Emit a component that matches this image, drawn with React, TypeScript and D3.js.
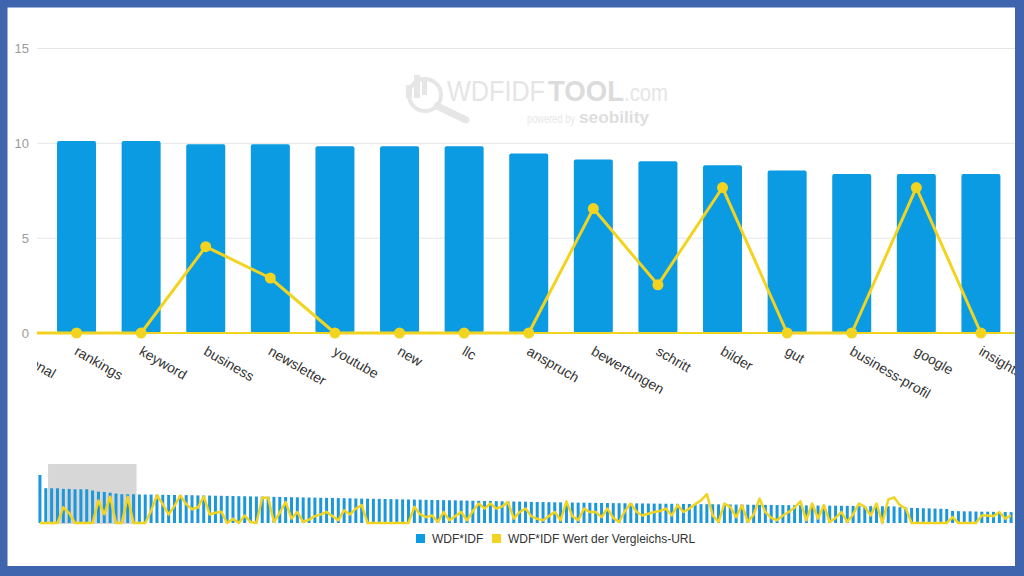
import React from "react";
import * as d3 from "d3";

// ---- data ----
const categories = ["", "regional", "rankings", "keyword", "business", "newsletter", "youtube", "new", "llc", "anspruch", "bewertungen", "schritt", "bilder", "gut", "business-profil", "google", "insights"];
const wdfIdf = [14.0, 10.15, 10.12, 10.12, 9.95, 9.95, 9.84, 9.84, 9.84, 9.47, 9.15, 9.05, 8.84, 8.57, 8.38, 8.38, 8.38];
const compareUrl = [0, 0, 0, 0, 4.55, 2.9, 0, 0, 0, 0, 6.56, 2.54, 7.67, 0, 0, 7.67, 0];
const moreWdfIdf = [
  8.32, 8.30, 8.28, 8.25, 8.22, 8.20, 8.18, 8.15, 8.12, 8.10,
  8.05, 8.02, 8.00, 7.96, 7.93, 7.90, 7.86, 7.82, 7.80, 7.76,
  7.72, 7.70, 7.66, 7.62, 7.60, 7.56, 7.52, 7.50, 7.46, 7.42,
  7.40, 7.36, 7.33, 7.30, 7.26, 7.22, 7.20, 7.16, 7.12, 7.10,
  7.06, 7.02, 7.00, 6.96, 6.93, 6.90, 6.86, 6.83, 6.80, 6.76,
  6.73, 6.70, 6.66, 6.63, 6.60, 6.56, 6.53, 6.50, 6.46, 6.43,
  6.40, 6.36, 6.33, 6.30, 6.26, 6.23, 6.20, 6.16, 6.13, 6.10,
  6.07, 6.04, 6.02, 6.00, 5.97, 5.94, 5.92, 5.90, 5.87, 5.85,
  5.82, 5.80, 5.78, 5.76, 5.74, 5.72, 5.70, 5.68, 5.66, 5.64,
  5.62, 5.60, 5.58, 5.56, 5.54, 5.52, 5.50, 5.48, 5.46, 5.44,
  5.42, 5.40, 5.38, 5.36, 5.34, 5.32, 5.30, 5.28, 5.26, 5.24,
  5.22, 5.20, 5.18, 5.16, 5.14, 5.12, 5.10, 5.08, 5.06, 5.04,
  5.02, 5.00, 4.98, 4.96, 4.94, 4.92, 4.90, 4.88, 4.86, 4.84,
  4.60, 4.50, 4.40, 4.35, 4.30, 4.25, 4.20, 4.15, 4.10, 3.50,
  3.45, 3.40, 3.40, 3.35, 3.30, 3.30, 3.25, 3.20, 3.20, 3.15,
];
const moreCompare = [
  0, 0, 3.5, 8.1, 5.5, 2.5, 5.0, 8.0, 5.5, 4.0,
  4.5, 7.8, 2.5, 3.0, 3.3, 0, 1.2, 0, 2.2, 0.3,
  0, 7.4, 7.4, 0.3, 3.0, 6.1, 1.3, 3.2, 0.3, 1.0,
  2.0, 2.5, 3.2, 2.0, 0.8, 3.7, 2.5, 4.2, 5.2, 0,
  0, 0, 0, 0, 0, 0, 0, 4.7, 2.5, 1.7,
  2.2, 0.3, 3.2, 0.8, 2.0, 3.2, 0.8, 3.5, 5.7, 4.2,
  5.7, 4.2, 4.8, 6.1, 1.3, 3.2, 4.2, 2.0, 1.2, 0.8,
  2.0, 3.2, 0.8, 6.3, 2.0, 0.8, 4.2, 3.2, 3.2, 1.7,
  4.2, 1.5, 0.3, 3.5, 5.7, 3.2, 2.2, 2.7, 3.2, 3.5,
  4.2, 2.2, 5.2, 3.2, 4.2, 5.5, 6.6, 8.4, 2.2, 0.3,
  5.7, 4.7, 1.7, 5.2, 0.3, 2.5, 7.1, 3.2, 1.5, 0.8,
  2.2, 3.2, 4.5, 6.3, 0.8, 5.7, 1.3, 5.2, 0.3, 1.5,
  3.2, 0.3, 2.5, 5.7, 4.7, 2.2, 5.7, 0, 6.8, 7.5,
  5.2, 4.2, 0, 0, 0, 0, 0, 0, 0, 1.7,
  0, 0, 0, 0, 2.2, 2.2, 2.0, 3.2, 1.3, 2.2,
];
const yTicks = [0, 5, 10, 15];
const viewRange = [1.388, 16.512];
const legendLabels = ["WDF*IDF", "WDF*IDF Wert der Vergleichs-URL"];

const BLUE = "#0a9be2";
const NAV_BLUE = "#1c97d9";
const YELLOW = "#f2d420";
const FRAME = "#3f65ae";
const FONT = "'Liberation Sans', Arial, sans-serif";

export default function App() {
  const W = 1024, H = 576;
  const plotL = 37, plotR = 1015, plotT = 40, plotB = 333;

  const x = d3.scaleLinear().domain(viewRange).range([37, 1014]);
  const y = d3.scaleLinear().domain([0, 15]).range([333, 48.5]);

  const allWdf = [...wdfIdf, ...moreWdfIdf];
  const allCmp = [...compareUrl, ...moreCompare];
  const N = allWdf.length;

  const nx = d3.scaleLinear().domain([-0.5, N - 0.5]).range([37, 1014]);
  const ny = d3.scaleLinear().domain([0, 14]).range([523, 475]);

  const barW = 39;
  const idx = d3.range(categories.length);

  const mainLine = d3.line<number>().x((i) => x(i)).y((i) => y(compareUrl[i]));
  const navLine = d3.line<number>().x((i) => nx(i)).y((i) => ny(allCmp[i]));
  const navIdx = d3.range(N);
  const navBarW = 3;

  return (
    <svg width={W} height={H} style={{ position: "fixed", left: 0, top: 0, background: "#fff" }} fontFamily={FONT}>
      <defs>
        <clipPath id="plotClip">
          <rect x={plotL} y={plotT} width={plotR - plotL} height={plotB - plotT + 10} />
        </clipPath>
        <clipPath id="labelClip">
          <rect x={plotL} y={335} width={plotR - plotL} height={120} />
        </clipPath>
        <clipPath id="navClip">
          <rect x={37} y={455} width={plotR - 37} height={75} />
        </clipPath>
      </defs>
      <rect x={0} y={0} width={W} height={H} fill="#fff" />

      {/* watermark */}
      <g>
        <circle cx={425} cy={95} r={16} fill="none" stroke="#e6e6e6" strokeWidth={4} />
        <line x1={437} y1={106} x2={466} y2={120} stroke="#e6e6e6" strokeWidth={7} strokeLinecap="round" />
        <rect x={406} y={85} width={6} height={13} fill="#e6e6e6" />
        <rect x={414} y={75} width={6} height={23} fill="#e6e6e6" />
        <rect x={422} y={81} width={5} height={14} fill="#e6e6e6" />
        <text y={101} fill="#e5e5e5">
          <tspan x={447} fontSize={30} textLength={98} lengthAdjust="spacingAndGlyphs">WDFIDF</tspan>
          <tspan x={548} fontSize={30} fontWeight="bold" fill="#dcdcdc" textLength={76} lengthAdjust="spacingAndGlyphs">TOOL</tspan>
          <tspan x={624} fontSize={24} textLength={44} lengthAdjust="spacingAndGlyphs">.com</tspan>
        </text>
        <text y={123} fill="#e8e8e8">
          <tspan x={527} fontSize={12} textLength={48} lengthAdjust="spacingAndGlyphs">powered by</tspan>
          <tspan x={579} fontSize={17} fontWeight="bold" fill="#dedede" textLength={70} lengthAdjust="spacingAndGlyphs">seobility</tspan>
        </text>
      </g>

      {/* gridlines */}
      {yTicks.filter((t) => t > 0).map((t) => (
        <line key={t} x1={plotL} x2={plotR} y1={y(t)} y2={y(t)} stroke="#e6e6e6" strokeWidth={1} />
      ))}
      {yTicks.map((t) => (
        <text key={"yl" + t} x={29} y={y(t)} dy="0.35em" textAnchor="end" fontSize={13} fill="#9a9a9a">{t}</text>
      ))}

      {/* main series */}
      <g clipPath="url(#plotClip)">
        {idx.map((i) => (
          <rect key={i} x={x(i) - barW / 2} y={y(wdfIdf[i])} width={barW} height={y(0) - y(wdfIdf[i])} fill={BLUE} rx={2} />
        ))}
        <line x1={plotL} x2={plotR} y1={y(0)} y2={y(0)} stroke={YELLOW} strokeWidth={2} />
        <path d={mainLine(idx) || ""} fill="none" stroke={YELLOW} strokeWidth={3} strokeLinejoin="round" />
        {idx.map((i) => (
          <circle key={"m" + i} cx={x(i)} cy={y(compareUrl[i])} r={5.5} fill={YELLOW} />
        ))}
      </g>

      {/* x labels */}
      <g clipPath="url(#labelClip)">
        {idx.map((i) =>
          categories[i] ? (
            <text key={"xl" + i} transform={`translate(${x(i) - 3},354) rotate(30)`} fontSize={14} fill="#333">
              {categories[i]}
            </text>
          ) : null
        )}
      </g>

      {/* navigator */}
      <g clipPath="url(#navClip)">
        <rect x={nx(viewRange[0])} y={464} width={nx(viewRange[1]) - nx(viewRange[0])} height={60} fill="#d7d7d7" />
        {navIdx.map((i) => (
          <rect key={"nb" + i} x={nx(i) - navBarW / 2} y={ny(allWdf[i])} width={navBarW} height={ny(0) - ny(allWdf[i])} fill={NAV_BLUE} />
        ))}
        <path d={navLine(navIdx) || ""} fill="none" stroke={YELLOW} strokeWidth={2.5} strokeLinejoin="round" />
      </g>

      {/* legend */}
      <g fontSize={12} fill="#333">
        <rect x={416} y={534} width={9} height={9} fill={BLUE} />
        <text x={432} y={542.5}>{legendLabels[0]}</text>
        <rect x={492} y={534} width={9} height={9} fill={YELLOW} />
        <text x={508} y={542.5}>{legendLabels[1]}</text>
      </g>

      {/* frame */}
      <path
        d={`M0,0H${W}V${H}H0Z M7.5,7.5V566H1015V7.5Z`}
        fill={FRAME}
        fillRule="evenodd"
      />
    </svg>
  );
}
